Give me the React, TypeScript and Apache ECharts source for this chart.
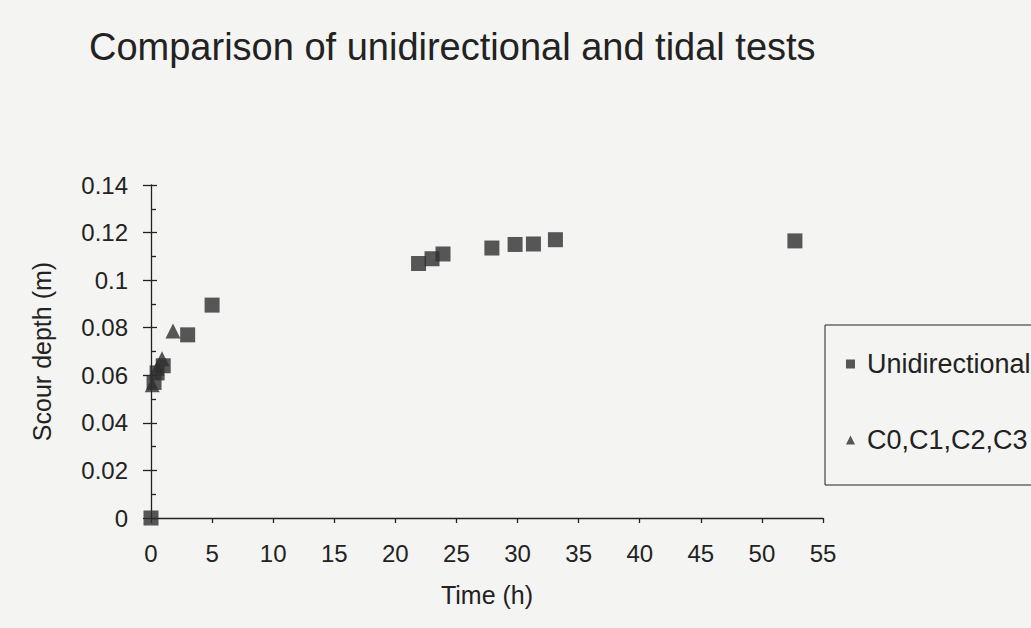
import React, { useEffect, useRef } from "react";
import * as echarts from "echarts";

const TITLE = "Comparison of unidirectional and tidal tests";
const X_NAME = "Time (h)";
const Y_NAME = "Scour depth (m)";
const SERIES_NAMES = ["Unidirectional", "C0,C1,C2,C3"];

// Unidirectional test: [time (h), scour depth (m)]
const unidirectional: [number, number][] = [
  [0, 0],
  [0.25, 0.057],
  [0.5, 0.061],
  [1.0, 0.064],
  [3.0, 0.077],
  [5.0, 0.0895],
  [21.9, 0.107],
  [23.0, 0.109],
  [23.9, 0.111],
  [27.9, 0.1135],
  [29.8, 0.115],
  [31.3, 0.1152],
  [33.1, 0.117],
  [52.7, 0.1165],
];

// Tidal tests C0..C3: [time (h), scour depth (m)]
const tidal: [number, number][] = [
  [0.1, 0.056],
  [0.5, 0.063],
  [0.9, 0.067],
  [1.8, 0.0786],
];

const X_MIN = 0;
const X_MAX = 55;
const X_STEP = 5;
const Y_MIN = 0;
const Y_MAX = 0.14;
const Y_STEP = 0.02;

const FONT = '"Liberation Sans", Arial, Helvetica, sans-serif';
const INK = "#222222";
const MARK = "#2e2e2e";

export default function App() {
  const ref = useRef<HTMLDivElement>(null);

  useEffect(() => {
    if (!ref.current) return;
    const chart = echarts.init(ref.current, undefined, { renderer: "svg" });
    const fmtY = (v: number) => String(+v.toFixed(2));
    chart.setOption({
      animation: false,
      backgroundColor: "#f4f4f2",
      textStyle: { fontFamily: FONT, color: INK },
      title: {
        text: TITLE,
        left: 84,
        top: 23,
        textStyle: { fontFamily: FONT, fontSize: 38, fontWeight: "normal", color: INK },
      },
      legend: {
        orient: "vertical",
        left: 825,
        top: 325,
        padding: [24, 60, 30, 21],
        itemGap: 46,
        itemWidth: 9,
        itemHeight: 9,
        borderColor: INK,
        borderWidth: 1,
        data: [
          { name: SERIES_NAMES[0], icon: "rect" },
          { name: SERIES_NAMES[1], icon: "triangle" },
        ],
        textStyle: { fontFamily: FONT, fontSize: 27, color: INK, lineHeight: 30, padding: [0, 0, 0, 7] },
      },
      grid: { left: 151, right: 208, top: 185, bottom: 110, containLabel: false },
      xAxis: {
        type: "value",
        min: X_MIN,
        max: X_MAX,
        interval: X_STEP,
        name: X_NAME,
        nameLocation: "middle",
        nameGap: 64,
        nameTextStyle: { fontFamily: FONT, fontSize: 25, color: INK },
        axisLine: { show: true, onZero: false, lineStyle: { color: INK, width: 1.3 } },
        axisTick: { show: true, inside: false, length: 5, lineStyle: { color: INK, width: 1.3 } },
        axisLabel: { fontFamily: FONT, fontSize: 24, color: INK, margin: 23 },
        splitLine: { show: false },
      },
      yAxis: [
        {
          type: "value",
          min: Y_MIN,
          max: Y_MAX,
          interval: Y_STEP,
          name: Y_NAME,
          nameLocation: "middle",
          nameGap: 97,
          nameTextStyle: { fontFamily: FONT, fontSize: 25, color: INK },
          axisLine: { show: true, onZero: false, lineStyle: { color: INK, width: 1.3 } },
          axisTick: { show: true, inside: false, length: 8, lineStyle: { color: INK, width: 1.3 } },
          axisLabel: { fontFamily: FONT, fontSize: 24, color: INK, margin: 23, formatter: fmtY },
          splitLine: { show: false },
        },
        {
          type: "value",
          position: "left",
          min: Y_MIN,
          max: Y_MAX,
          interval: Y_STEP,
          axisLine: { show: false },
          axisTick: { show: true, inside: true, length: 6, lineStyle: { color: INK, width: 1.3 } },
          minorTick: { show: true, splitNumber: 2, length: 5, lineStyle: { color: INK, width: 1.3 } },
          axisLabel: { show: false },
          splitLine: { show: false },
        },
      ],
      series: [
        {
          name: SERIES_NAMES[1],
          type: "scatter",
          yAxisIndex: 0,
          symbol: "triangle",
          symbolSize: 15,
          itemStyle: { color: MARK },
          data: tidal,
        },
        {
          name: SERIES_NAMES[0],
          type: "scatter",
          yAxisIndex: 0,
          symbol: "rect",
          symbolSize: 15,
          itemStyle: { color: MARK },
          data: unidirectional,
        },
      ],
    });
    return () => chart.dispose();
  }, []);

  return (
    <div
      ref={ref}
      style={{ position: "fixed", left: 0, top: 0, width: 1031, height: 628 }}
    />
  );
}
